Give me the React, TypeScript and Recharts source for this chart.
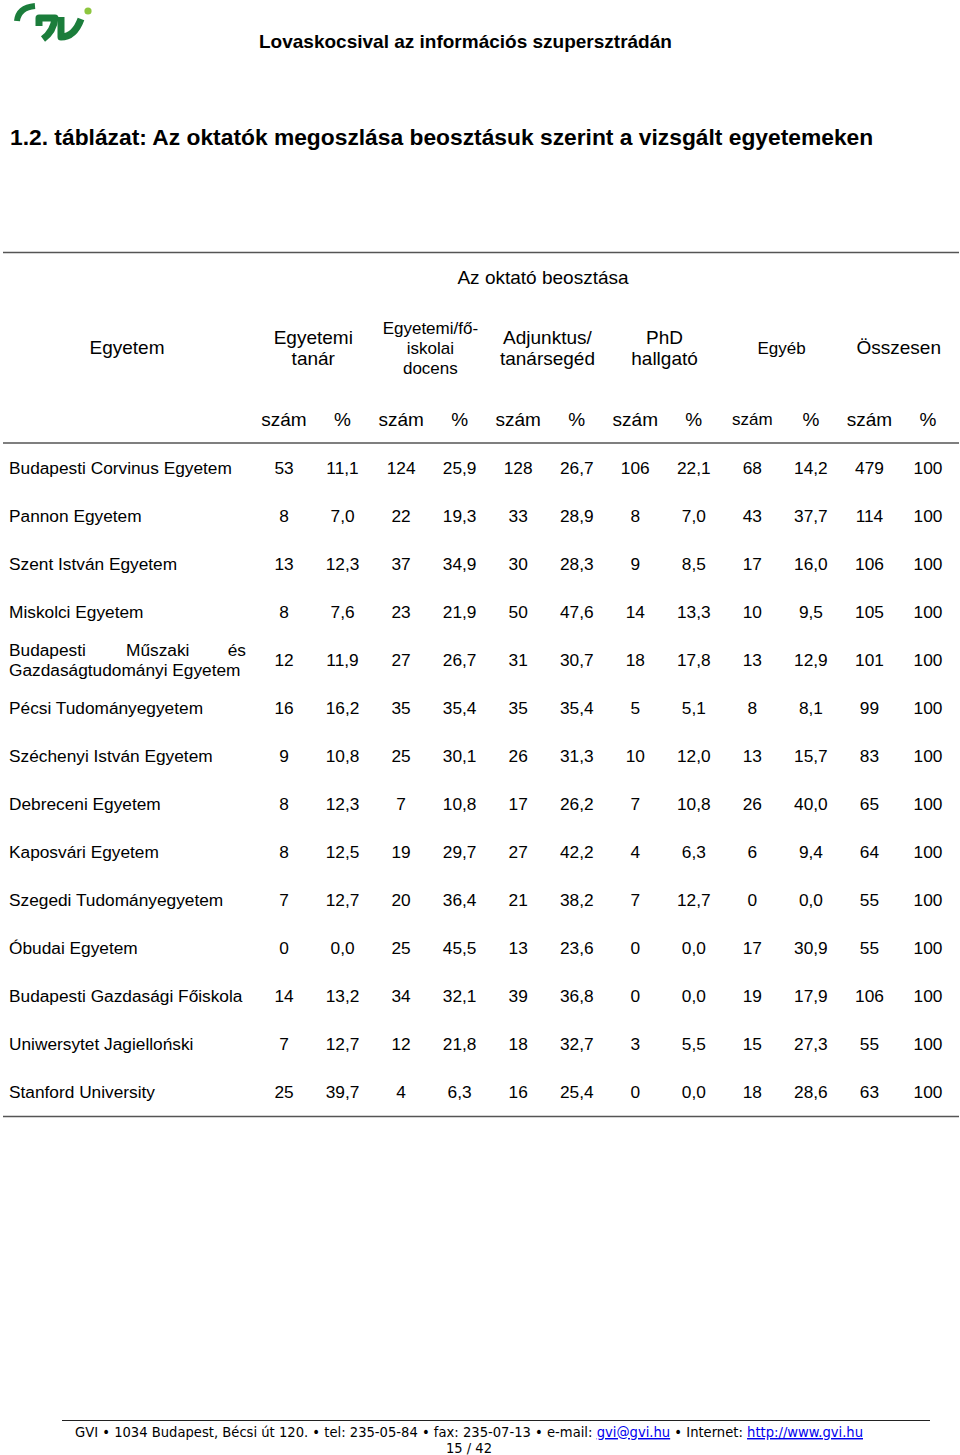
import React from 'react';
import { ScatterChart, Scatter, XAxis, YAxis } from 'recharts';

const universities = [
  'Budapesti Corvinus Egyetem',
  'Pannon Egyetem',
  'Szent István Egyetem',
  'Miskolci Egyetem',
  'Budapesti Műszaki és Gazdaságtudományi Egyetem',
  'Pécsi Tudományegyetem',
  'Széchenyi István Egyetem',
  'Debreceni Egyetem',
  'Kaposvári Egyetem',
  'Szegedi Tudományegyetem',
  'Óbudai Egyetem',
  'Budapesti Gazdasági Főiskola',
  'Uniwersytet Jagielloński',
  'Stanford University',
];

const tanarN = [53, 8, 13, 8, 12, 16, 9, 8, 8, 7, 0, 14, 7, 25];
const tanarP = [11.1, 7.0, 12.3, 7.6, 11.9, 16.2, 10.8, 12.3, 12.5, 12.7, 0.0, 13.2, 12.7, 39.7];
const docensN = [124, 22, 37, 23, 27, 35, 25, 7, 19, 20, 25, 34, 12, 4];
const docensP = [25.9, 19.3, 34.9, 21.9, 26.7, 35.4, 30.1, 10.8, 29.7, 36.4, 45.5, 32.1, 21.8, 6.3];
const adjN = [128, 33, 30, 50, 31, 35, 26, 17, 27, 21, 13, 39, 18, 16];
const adjP = [26.7, 28.9, 28.3, 47.6, 30.7, 35.4, 31.3, 26.2, 42.2, 38.2, 23.6, 36.8, 32.7, 25.4];
const phdN = [106, 8, 9, 14, 18, 5, 10, 7, 4, 7, 0, 0, 3, 0];
const phdP = [22.1, 7.0, 8.5, 13.3, 17.8, 5.1, 12.0, 10.8, 6.3, 12.7, 0.0, 0.0, 5.5, 0.0];
const egyebN = [68, 43, 17, 10, 13, 8, 13, 26, 6, 0, 17, 19, 15, 18];
const egyebP = [14.2, 37.7, 16.0, 9.5, 12.9, 8.1, 15.7, 40.0, 9.4, 0.0, 30.9, 17.9, 27.3, 28.6];
const osszN = [479, 114, 106, 105, 101, 99, 83, 65, 64, 55, 55, 106, 55, 63];
const osszP = [100, 100, 100, 100, 100, 100, 100, 100, 100, 100, 100, 100, 100, 100];

const groupHeaders = [
  ['Egyetemi', 'tanár'],
  ['Egyetemi/fő-', 'iskolai', 'docens'],
  ['Adjunktus/', 'tanársegéd'],
  ['PhD', 'hallgató'],
  ['Egyéb'],
  ['Összesen'],
];
const subHeaders = ['szám', '%', 'szám', '%', 'szám', '%', 'szám', '%', 'szám', '%', 'szám', '%'];

const columns = [tanarN, tanarP, docensN, docensP, adjN, adjP, phdN, phdP, egyebN, egyebP, osszN, osszP];

const fmtPct = (v: number) => (v === 100 ? '100' : v.toFixed(1).replace('.', ','));

const cells = universities.flatMap((_, r) =>
  columns.map((col, c) => ({
    col: c,
    row: r,
    text: c % 2 === 0 ? String(col[r]) : fmtPct(col[r]),
  }))
);

const FONT = "'Liberation Sans', Arial, sans-serif";
const LINE = '#555';

const colTicks = columns.map((_, i) => i);
const grpTicks = groupHeaders.map((_, i) => i * 2 + 0.5);
const rowTicks = universities.map((_, i) => i);

const CellText = (props: any) => {
  const { cx, cy, payload } = props;
  return (
    <text x={cx} y={cy} dy="0.36em" textAnchor="middle" fontFamily={FONT} fontSize={17.3} fill="#000">
      {payload.text}
    </text>
  );
};

const NoShape = () => <g />;

const SubTick = (props: any) => {
  const { x, payload } = props;
  const i = Math.round(payload.value);
  const fs = i === 8 ? 17 : 19;
  return (
    <text x={x} y={419} dy="0.36em" textAnchor="middle" fontFamily={FONT} fontSize={fs} fill="#000">
      {subHeaders[i]}
    </text>
  );
};

const GroupTick = (props: any) => {
  const { x, payload } = props;
  const i = Math.round((payload.value - 0.5) / 2);
  const lines = groupHeaders[i] || [];
  const small = i === 1 || i === 4;
  const fs = small ? 17 : 19;
  const lh = small ? 20 : 21;
  const y0 = 347.5 - ((lines.length - 1) * lh) / 2;
  return (
    <g>
      {lines.map((l, k) => (
        <text key={k} x={x} y={y0 + k * lh} dy="0.36em" textAnchor="middle" fontFamily={FONT} fontSize={fs} fill="#000">
          {l}
        </text>
      ))}
    </g>
  );
};

const RowTick = (props: any) => {
  const { y, payload } = props;
  const name = universities[Math.round(payload.value)] || '';
  const words = name.split(' ');
  if (name.length > 34) {
    const first = words.slice(0, 3);
    const rest = words.slice(3).join(' ');
    return (
      <g fontFamily={FONT} fontSize={17.3} fill="#000">
        <text x={9} y={y - 10} dy="0.36em" textAnchor="start">{first[0]}</text>
        <text x={126} y={y - 10} dy="0.36em" textAnchor="start">{first[1]}</text>
        <text x={246} y={y - 10} dy="0.36em" textAnchor="end">{first[2]}</text>
        <text x={9} y={y + 10} dy="0.36em" textAnchor="start">{rest}</text>
      </g>
    );
  }
  return (
    <text x={9} y={y} dy="0.36em" textAnchor="start" fontFamily={FONT} fontSize={17.3} fill="#000">
      {name}
    </text>
  );
};

const Decoration = () => (
  <svg width={960} height={1455} style={{ position: 'absolute', left: 0, top: 0 }}>
    {/* logo */}
    <g fill="none" stroke="#1b7d3b" strokeLinejoin="round">
      <path d="M17,21 C18,12 24,7 35,6" strokeWidth={6} />
      <path d="M39,26 L39,18 L55,18 C54,28 50,34 43,39" strokeWidth={7} />
      <path d="M61,17 L61,37 C71,37 77,30 81,19" strokeWidth={7} />
    </g>
    <circle cx={88} cy={11} r={3.6} fill="#8dc63f" />
    {/* running header */}
    <text x={259} y={48} fontFamily={FONT} fontWeight="bold" fontSize={19} fill="#000">
      Lovaskocsival az információs szupersztrádán
    </text>
    {/* title */}
    <text x={10} y={145} fontFamily={FONT} fontWeight="bold" fontSize={22.8} fill="#000">
      1.2. táblázat: Az oktatók megoszlása beosztásuk szerint a vizsgált egyetemeken
    </text>
    {/* table rules */}
    <line x1={3} x2={959} y1={252.5} y2={252.5} stroke={LINE} strokeWidth={1.5} />
    <line x1={3} x2={959} y1={443} y2={443} stroke={LINE} strokeWidth={1.5} />
    <line x1={3} x2={959} y1={1116.5} y2={1116.5} stroke={LINE} strokeWidth={1.5} />
    <text x={543} y={277} dy="0.36em" textAnchor="middle" fontFamily={FONT} fontSize={19} fill="#000">
      Az oktató beosztása
    </text>
    <text x={127} y={347.5} dy="0.36em" textAnchor="middle" fontFamily={FONT} fontSize={19} fill="#000">
      Egyetem
    </text>
    {/* footer */}
    <line x1={62} x2={930} y1={1420.5} y2={1420.5} stroke="#222" strokeWidth={1} />
    <text
      x={75}
      y={1437}
      fontFamily="'Liberation Sans Narrow', 'DejaVu Sans Condensed', 'Liberation Sans', sans-serif"
      fontSize={14.5}
      fill="#000"
      textLength={788}
      lengthAdjust="spacingAndGlyphs"
    >
      GVI • 1034 Budapest, Bécsi út 120. • tel: 235-05-84 • fax: 235-07-13 • e-mail:{' '}
      <tspan fill="#0000ee" style={{ textDecoration: 'underline' }}>gvi@gvi.hu</tspan> • Internet:{' '}
      <tspan fill="#0000ee" style={{ textDecoration: 'underline' }}>http://www.gvi.hu</tspan>
    </text>
    <text
      x={469}
      y={1453}
      textAnchor="middle"
      fontFamily="'Liberation Sans Narrow', 'DejaVu Sans Condensed', 'Liberation Sans', sans-serif"
      fontSize={14.5}
      fill="#000"
    >
      15 / 42
    </text>
  </svg>
);

export default function App() {
  return (
    <div style={{ position: 'absolute', left: 0, top: 0, width: 960, height: 1455, background: '#fff', overflow: 'hidden' }}>
      <Decoration />
      <div style={{ position: 'absolute', left: 0, top: 0 }}>
        <ScatterChart width={960} height={1455} margin={{ top: 458, right: 32, bottom: 363, left: 274 }}>
          <XAxis
            xAxisId="cols"
            type="number"
            dataKey="col"
            domain={[0, 11]}
            ticks={colTicks}
            interval={0}
            orientation="top"
            height={5}
            axisLine={false}
            tickLine={false}
            tick={SubTick}
          />
          <XAxis
            xAxisId="grp"
            type="number"
            dataKey="col"
            domain={[0, 11]}
            ticks={grpTicks}
            interval={0}
            orientation="top"
            height={5}
            axisLine={false}
            tickLine={false}
            tick={GroupTick}
          />
          <YAxis
            type="number"
            dataKey="row"
            domain={[0, 13]}
            reversed
            ticks={rowTicks}
            interval={0}
            width={10}
            axisLine={false}
            tickLine={false}
            tick={RowTick}
          />
          <Scatter xAxisId="cols" data={cells} dataKey="row" shape={CellText} isAnimationActive={false} />
          <Scatter xAxisId="grp" data={cells} dataKey="row" shape={NoShape} isAnimationActive={false} />
        </ScatterChart>
      </div>
    </div>
  );
}
